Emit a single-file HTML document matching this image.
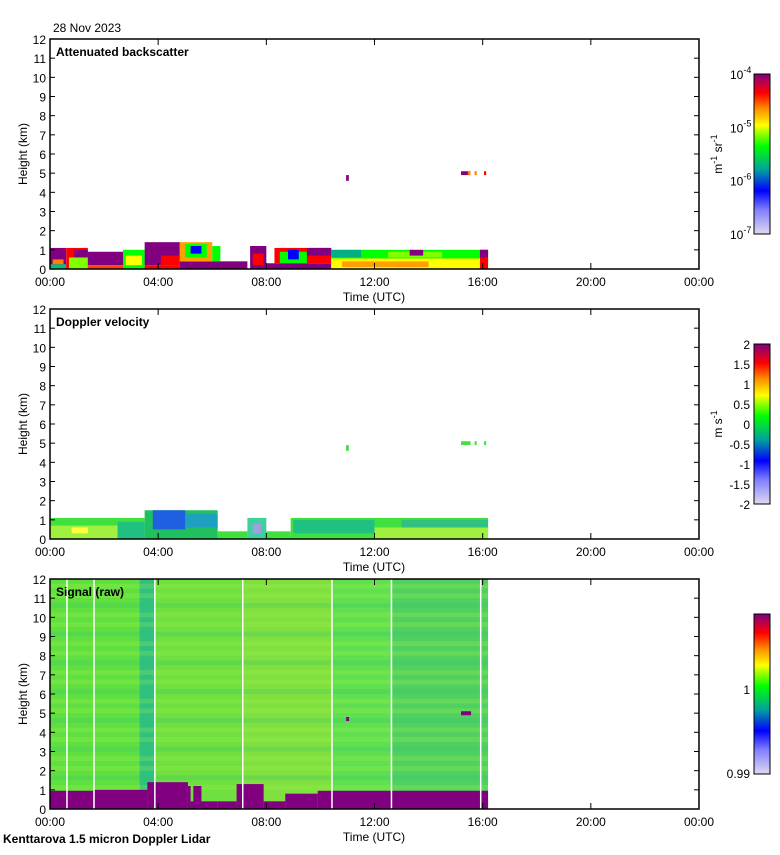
<!DOCTYPE html>
<html><head><meta charset="utf-8"><style>
body{margin:0;background:#fff;}
svg text{font-family:"Liberation Sans",sans-serif;font-size:12px;fill:#000;}
</style></head><body>
<svg id="c" width="780" height="850" xmlns="http://www.w3.org/2000/svg">
<defs>
<linearGradient id="gBack" x1="0" y1="1" x2="0" y2="0">
<stop offset="0" stop-color="#e0d8f0"/><stop offset="0.15" stop-color="#8080ff"/><stop offset="0.27" stop-color="#0000ff"/><stop offset="0.4" stop-color="#00a0a0"/><stop offset="0.55" stop-color="#00ff00"/><stop offset="0.68" stop-color="#ffff00"/><stop offset="0.78" stop-color="#ff9000"/><stop offset="0.88" stop-color="#ff0000"/><stop offset="1" stop-color="#800080"/>
</linearGradient>
</defs>
<g id="root"></g>
</svg>
<script>
const timeTicks=["00:00","04:00","08:00","12:00","16:00","20:00","00:00"];
const heightTicks=[0,1,2,3,4,5,6,7,8,9,10,11,12];
// backscatter blocks: [startHour,endHour,bottomKm,topKm,color]
const backBlocks=[
[0,0.6,0,1.1,"#800080"],[0,0.6,0,0.25,"#00c080"],[0.1,0.5,0.25,0.5,"#ff8000"],
[0.6,1.4,0,1.1,"#ff0000"],[0.7,1.4,0,0.6,"#80ff00"],[0.9,1.4,0.6,1.0,"#800080"],
[1.4,2.7,0.2,0.9,"#800080"],[1.4,2.7,0,0.2,"#ff4000"],
[2.7,3.5,0,1.0,"#00ff00"],[2.8,3.4,0.2,0.7,"#ffff00"],
[3.5,4.8,0.2,1.4,"#800080"],[3.5,4.8,0,0.2,"#ff0000"],[4.1,4.8,0.2,0.7,"#ff0000"],
[4.8,7.3,0,0.4,"#800080"],[4.8,6.0,0.4,1.4,"#ffa000"],[5.0,5.8,0.6,1.3,"#00ff00"],[5.2,5.6,0.8,1.2,"#0000ff"],[6.0,6.3,0.4,1.2,"#00ff00"],
[7.4,8.0,0,1.2,"#800080"],[7.5,7.9,0.2,0.8,"#ff0000"],
[8.0,10.4,0,0.3,"#800080"],[8.3,10.4,0.3,1.1,"#ff0000"],[8.5,9.5,0.3,0.9,"#00ff00"],[9.5,10.4,0.7,1.1,"#800080"],[8.8,9.2,0.5,1.0,"#0000ff"],
[10.4,16.2,0,1.0,"#00ff00"],[10.4,16.2,0,0.55,"#ffff00"],[10.8,14,0.1,0.4,"#ffa000"],[10.4,11.5,0.6,1.0,"#00b080"],[12.5,14.5,0.6,0.9,"#80ff00"],
[13.3,13.8,0.7,1.0,"#800080"],[15.9,16.2,0,1.0,"#ff0000"],[15.9,16.2,0.6,1.0,"#800080"],
[10.95,11.05,4.6,4.9,"#800080"],[15.2,15.55,4.9,5.1,"#800080"],[15.45,15.55,4.9,5.1,"#ff8000"],[15.7,15.78,4.9,5.1,"#ff8000"],[16.05,16.13,4.9,5.1,"#ff0000"]
];
// doppler blocks
const dopBlocks=[
[0,3.5,0,1.1,"#40e040"],[0,2.5,0,0.7,"#a0f040"],[0.8,1.4,0.3,0.6,"#ffff40"],[2.5,3.5,0,0.9,"#20c080"],
[3.5,6.2,0,1.5,"#20c060"],[3.8,5.0,0.5,1.5,"#2060e0"],[5.0,6.2,0.6,1.3,"#20a0c0"],[6.2,7.3,0,0.4,"#40e040"],
[7.3,8.0,0,1.1,"#40d0a0"],[7.5,7.8,0.3,0.8,"#a0a0e0"],[8.0,8.9,0,0.4,"#40e040"],
[8.9,16.2,0,1.1,"#40e040"],[9.0,12,0.3,1.0,"#20c080"],[12,16.2,0,0.6,"#a0f040"],[13,16.2,0.6,1.0,"#30c080"],
[10.95,11.05,4.6,4.9,"#40e040"],[15.2,15.55,4.9,5.1,"#40e040"],[15.7,15.78,4.9,5.1,"#40e040"],[16.05,16.13,4.9,5.1,"#40e040"]
];
// signal: stripes [start,end,color] above boundary, boundary [start,end,topKm]
const sigStripes=[[0,3.3,"#60e040"],[3.3,3.9,"#30c080"],[3.9,7.1,"#70e040"],[7.1,10.4,"#80e040"],[10.4,12.6,"#60e050"],[12.6,16.2,"#50d060"]];
const sigBoundary=[[0,1.6,0.95],[1.6,3.6,1.0],[3.6,5.1,1.4],[5.1,5.2,1.2],[5.2,6.2,0.4],[5.3,5.6,1.2],[6.2,6.9,0.4],[6.9,7.9,1.3],[7.9,8.7,0.4],[8.7,9.9,0.8],[9.9,16.2,0.95]];
const sigGaps=[0.6,1.6,3.85,7.1,10.4,12.6,15.9];
const colorbarBack=["10","10","10","10"],backExp=["-4","-5","-6","-7"];
const dopTicks=["2","1.5","1","0.5","0","-0.5","-1","-1.5","-2"];

const NS="http://www.w3.org/2000/svg";
const root=document.getElementById('root');
const X0=50,X1=699;
function xs(h){return X0+(X1-X0)*h/24;}
function mk(tag,attrs,parent){const e=document.createElementNS(NS,tag);for(const k in attrs)e.setAttribute(k,attrs[k]);(parent||root).appendChild(e);return e;}
function txt(s,x,y,anchor,parent,bold){const t=mk('text',{x:x,y:y,'text-anchor':anchor||'start'},parent);if(bold)t.setAttribute('font-weight','bold');t.textContent=s;return t;}

function panel(top,name,title,blocks,sig){
  const bot=top+230;
  const ys=k=>bot-(bot-top)*k/12;
  const g=mk('g',{});
  
  
  if(sig){
    sigStripes.forEach(s=>{const r=mk('rect',{x:xs(s[0]),y:ys(12),width:xs(s[1])-xs(s[0]),height:ys(0)-ys(12),fill:s[2]},g);
      });
    for(let k=1;k<12;k+=0.5){const r=mk('rect',{x:xs(0),y:ys(k+0.25),width:xs(16.2)-xs(0),height:ys(k)-ys(k+0.25),fill:(k*2)%3==0?"#30c070":"#a0f040",opacity:0.25},g);
      }
    sigBoundary.forEach(b=>{const r=mk('rect',{x:xs(b[0]),y:ys(b[2]),width:xs(b[1])-xs(b[0]),height:ys(0)-ys(b[2]),fill:"#800080"},g);
      });
    sigGaps.forEach(h=>{const r=mk('rect',{x:xs(h),y:ys(12),width:1.5,height:ys(0)-ys(12),fill:"#fff"},g);
      });
    const r=mk('rect',{x:xs(10.95),y:ys(4.8),width:3,height:4,fill:"#800080"},g);
    const r2=mk('rect',{x:xs(15.2),y:ys(5.1),width:10,height:4,fill:"#800080"},g);
  } else {
    blocks.forEach(b=>{const r=mk('rect',{x:xs(b[0]),y:ys(b[3]),width:xs(b[1])-xs(b[0]),height:ys(b[2])-ys(b[3]),fill:b[4]},g);
      });
  }
  const f=mk('rect',{x:X0,y:top,width:X1-X0,height:bot-top,fill:'none',stroke:'#000','stroke-width':1.5},g);
  
  heightTicks.forEach(k=>{
    mk('line',{x1:X0,x2:X0+5,y1:ys(k),y2:ys(k),stroke:'#000'},g);
    mk('line',{x1:X1,x2:X1-5,y1:ys(k),y2:ys(k),stroke:'#000'},g);
    const t=txt(String(k),46,ys(k)+5,'end',g);
  });
  timeTicks.forEach((s,i)=>{const x=xs(i*4);
    mk('line',{x1:x,x2:x,y1:bot,y2:bot-6,stroke:'#000'},g);mk('line',{x1:x,x2:x,y1:top,y2:top+6,stroke:'#000'},g);
    const t=txt(s,x,bot+17,'middle',g);});
  const xt=txt('Time (UTC)',374,bot+32,'middle',g);
  const yt=txt('Height (km)',0,0,'middle',g);yt.setAttribute('transform','translate(27,'+(top+115)+') rotate(-90)');
  
  const tt=txt(title,56,top+17,'start',g,true);
}
panel(39,'backscatter','Attenuated backscatter',backBlocks,false);
panel(309,'doppler','Doppler velocity',dopBlocks,false);
panel(579,'signal','Signal (raw)',null,true);

function cbar(top,name){const r=mk('rect',{x:754,y:top,width:16,height:160,fill:'url(#gBack)',stroke:'#000'});
  }
cbar(74,'backscatter-colorbar');cbar(344,'doppler-colorbar');cbar(614,'signal-colorbar');
colorbarBack.forEach((b,i)=>{const y=74+i*(160/3)+5;const t=txt(b,730,y,'start');
  const s=mk('tspan',{dy:-6,'font-size':'9'},t);s.textContent=backExp[i];
  });
dopTicks.forEach((s,i)=>{const t=txt(s,750,344+i*20+5,'end');});
[["1",694],["0.99",778]].forEach(a=>{const t=txt(a[0],750,a[1],'end');});
const u1=txt('m',0,0,'middle');u1.innerHTML='m<tspan dy="-5" font-size="9">-1</tspan><tspan dy="5"> sr</tspan><tspan dy="-5" font-size="9">-1</tspan>';
u1.setAttribute('transform','translate(722,154) rotate(-90)');
const u2=txt('m',0,0,'middle');u2.innerHTML='m s<tspan dy="-5" font-size="9">-1</tspan>';
u2.setAttribute('transform','translate(722,424) rotate(-90)');
const d=txt('28 Nov 2023',53,32,'start');
const ft=txt('Kenttarova 1.5 micron Doppler Lidar',3,843,'start',null,true);
</script>
</body></html>
